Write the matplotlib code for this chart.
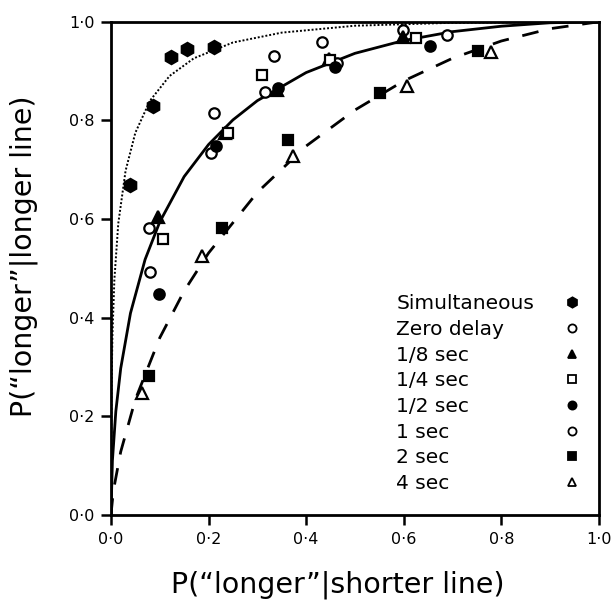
import matplotlib
matplotlib.use("Agg")
import matplotlib.pyplot as plt
from matplotlib.lines import Line2D

# ROC curves
dot_x = [0.0, 0.001, 0.003, 0.007, 0.015, 0.03, 0.05, 0.08, 0.12, 0.17, 0.25, 0.35, 0.5, 0.7, 1.0]
dot_y = [0.0, 0.245, 0.364, 0.477, 0.591, 0.698, 0.775, 0.840, 0.890, 0.926, 0.958, 0.978, 0.992, 0.998, 1.0]

solid_x = [0.0, 0.003, 0.01, 0.02, 0.04, 0.07, 0.1, 0.15, 0.2, 0.25, 0.3, 0.4, 0.5, 0.6, 0.7, 0.8, 0.9, 1.0]
solid_y = [0.0, 0.110, 0.210, 0.297, 0.409, 0.518, 0.594, 0.686, 0.751, 0.801, 0.840, 0.897,
           0.936, 0.962, 0.980, 0.991, 0.998, 1.0]

dash_x = [0.0, 0.005, 0.02, 0.05, 0.1, 0.15, 0.2, 0.3, 0.4, 0.5, 0.6, 0.7, 0.8, 0.9, 1.0]
dash_y = [0.0, 0.049, 0.128, 0.234, 0.359, 0.454, 0.531, 0.654, 0.748, 0.821, 0.880, 0.926, 0.961, 0.986, 1.0]

# data points per condition
sim_x = [0.040, 0.087, 0.124, 0.156, 0.212]
sim_y = [0.669, 0.830, 0.928, 0.945, 0.948]

zero_x = [0.080, 0.205, 0.316, 0.464, 0.599]
zero_y = [0.492, 0.734, 0.857, 0.916, 0.984]

e8_x = [0.097, 0.234, 0.340, 0.447, 0.598]
e8_y = [0.605, 0.775, 0.862, 0.925, 0.970]

q4_x = [0.107, 0.239, 0.309, 0.449, 0.626]
q4_y = [0.560, 0.775, 0.892, 0.923, 0.967]

h2_x = [0.098, 0.215, 0.343, 0.459, 0.654]
h2_y = [0.448, 0.749, 0.866, 0.909, 0.950]

s1_x = [0.077, 0.212, 0.335, 0.432, 0.688]
s1_y = [0.582, 0.815, 0.930, 0.959, 0.974]

s2_x = [0.077, 0.227, 0.363, 0.551, 0.753]
s2_y = [0.281, 0.581, 0.761, 0.855, 0.940]

s4_x = [0.064, 0.186, 0.374, 0.606, 0.778]
s4_y = [0.247, 0.525, 0.728, 0.870, 0.938]

labels = ["Simultaneous", "Zero delay", "1/8 sec", "1/4 sec", "1/2 sec", "1 sec", "2 sec", "4 sec"]
ticks = [0.0, 0.2, 0.4, 0.6, 0.8, 1.0]
tick_labels = ["0·0", "0·2", "0·4", "0·6", "0·8", "1·0"]

series = [
    (sim_x, sim_y, "h", "black", 9.5),
    (zero_x, zero_y, "o", "white", 7.5),
    (e8_x, e8_y, "^", "black", 8),
    (q4_x, q4_y, "s", "white", 7.5),
    (h2_x, h2_y, "o", "black", 7.5),
    (s1_x, s1_y, "o", "white", 7.5),
    (s2_x, s2_y, "s", "black", 7.5),
    (s4_x, s4_y, "^", "white", 8),
]

fig = plt.figure(figsize=(6.13, 6.05), dpi=100)
ax = fig.add_axes([0.181, 0.149, 0.796, 0.815])

ax.plot(dot_x, dot_y, color="black", lw=1.4, ls=(0, (1, 1)))
ax.plot(solid_x, solid_y, color="black", lw=2.0)
ax.plot(dash_x, dash_y, color="black", lw=2.0, ls=(0, (6, 5)))

for xs, ys, m, fc, ms in series:
    ax.plot(xs, ys, ls="none", marker=m, ms=ms, mfc=fc, mec="black", mew=1.6, clip_on=False)

# legend: text column and marker column as two legends so text stays left aligned
fs = 14.5
ls_gap = 0.33
blank = [Line2D([], [], ls="none") for _ in labels]
leg_txt = ax.legend(blank, labels, loc="upper left", bbox_to_anchor=(0.585, 0.447),
                    frameon=False, fontsize=fs, labelspacing=ls_gap, handlelength=0,
                    handletextpad=0, borderaxespad=0, borderpad=0)
ax.add_artist(leg_txt)
handles = [Line2D([], [], ls="none", marker=m, ms=ms * 0.78, mfc=fc, mec="black", mew=1.3)
           for _, _, m, fc, ms in series]
ax.legend(handles, [""] * len(labels), loc="upper left", bbox_to_anchor=(0.932, 0.447),
          frameon=False, fontsize=fs, labelspacing=ls_gap, handlelength=0.6,
          handletextpad=0, borderaxespad=0, borderpad=0)

ax.set_xlim(0, 1)
ax.set_ylim(0, 1)
ax.set_xticks(ticks)
ax.set_xticklabels(tick_labels)
ax.set_yticks(ticks)
ax.set_yticklabels(tick_labels)
ax.tick_params(direction="out", length=7, width=1.8, labelsize=11.5, pad=5)
for sp in ax.spines.values():
    sp.set_linewidth(2.0)

ax.set_xlabel("P(“longer”|shorter line)", fontsize=20.5)
ax.set_ylabel("P(“longer”|longer line)", fontsize=20.5)
ax.xaxis.set_label_coords(0.465, -0.112)
ax.yaxis.set_label_coords(-0.150, 0.525)

fig.savefig("out.png", dpi=100)
